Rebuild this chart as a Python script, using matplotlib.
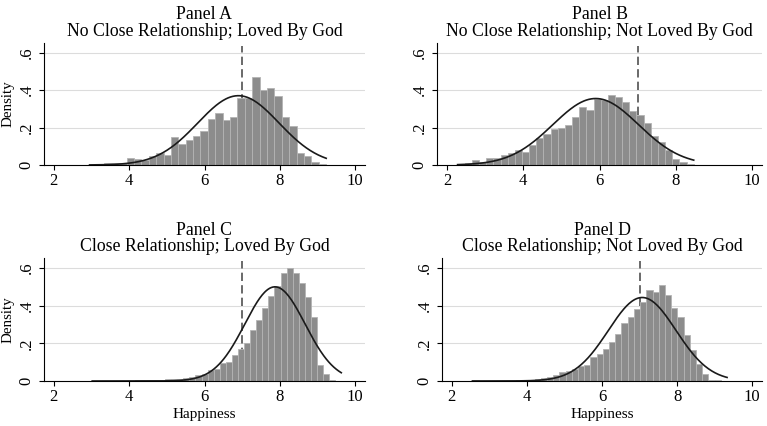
import numpy as np
import matplotlib
matplotlib.use("Agg")
import matplotlib.pyplot as plt

plt.rcParams['font.family'] = ['Liberation Serif', 'DejaVu Serif']

# panel titles
titles = ["Panel A\nNo Close Relationship; Loved By God",
          "Panel B\nNo Close Relationship; Not Loved By God",
          "Panel C\nClose Relationship; Loved By God",
          "Panel D\nClose Relationship; Not Loved By God"]

# histogram range (min, max of happiness) and bar densities per panel
a_range = (2.95, 9.23)
a_heights = [0.002, 0.003, 0.010, 0.012, 0.009, 0.036, 0.032, 0.027, 0.046, 0.062,
             0.052, 0.148, 0.114, 0.134, 0.155, 0.182, 0.248, 0.277, 0.240, 0.257,
             0.357, 0.356, 0.470, 0.398, 0.409, 0.370, 0.255, 0.209, 0.062, 0.048,
             0.018, 0.005]

b_range = (2.28, 8.47)
b_heights = [0.005, 0.012, 0.025, 0.014, 0.036, 0.040, 0.054, 0.062, 0.080, 0.068,
             0.107, 0.143, 0.164, 0.190, 0.200, 0.214, 0.255, 0.312, 0.295, 0.352,
             0.347, 0.374, 0.365, 0.338, 0.288, 0.267, 0.222, 0.155, 0.125, 0.078,
             0.034, 0.018, 0.005]

c_range = (3.02, 9.63)
c_heights = [0.002, 0.001, 0.001, 0.002, 0.001, 0.002, 0.002, 0.003, 0.003, 0.004,
             0.005, 0.006, 0.008, 0.010, 0.013, 0.016, 0.022, 0.030, 0.038, 0.060,
             0.066, 0.095, 0.100, 0.138, 0.170, 0.200, 0.270, 0.325, 0.385, 0.450,
             0.506, 0.575, 0.600, 0.572, 0.520, 0.445, 0.338, 0.085, 0.038, 0.005,
             0.002]

d_range = (2.55, 9.33)
d_heights = [0.004, 0.000, 0.000, 0.000, 0.001, 0.002, 0.002, 0.003, 0.004, 0.005,
             0.010, 0.014, 0.020, 0.030, 0.046, 0.053, 0.062, 0.081, 0.086, 0.130,
             0.142, 0.168, 0.205, 0.250, 0.306, 0.342, 0.380, 0.420, 0.485, 0.470,
             0.512, 0.455, 0.390, 0.340, 0.245, 0.165, 0.092, 0.038, 0.005, 0.003,
             0.002]

# normal overlay (mean, sd) per panel
a_norm = (6.90, 1.078)
b_norm = (5.90, 1.124)
c_norm = (7.87, 0.798)
d_norm = (7.07, 0.900)

cutoff = 7
xticks = [2, 4, 6, 8, 10]
yticks = [0, 0.2, 0.4, 0.6]
ytick_labels = ["0", ".2", ".4", ".6"]

W, H = 767, 426
fig = plt.figure(figsize=(W / 100, H / 100), dpi=100)

# axes boxes in pixels: left, right, top, bottom
boxes = [(44, 365, 42.7, 165), (437, 762, 42.7, 165),
         (44, 365, 258, 381), (442, 762, 258, 381)]
ranges = [a_range, b_range, c_range, d_range]
heights = [a_heights, b_heights, c_heights, d_heights]
norms = [a_norm, b_norm, c_norm, d_norm]

for i in range(4):
    l, r, t, b = boxes[i]
    ax = fig.add_axes([l / W, (H - b) / H, (r - l) / W, (b - t) / H])
    lo, hi = ranges[i]
    h = np.array(heights[i])
    edges = np.linspace(lo, hi, len(h) + 1)
    ax.bar(edges[:-1], h, width=np.diff(edges), align='edge',
           color='#8c8c8c', edgecolor='#b4b4b4', linewidth=0.6, zorder=2)
    m, s = norms[i]
    xs = np.linspace(lo, hi, 300)
    ax.plot(xs, np.exp(-0.5 * ((xs - m) / s) ** 2) / (s * np.sqrt(2 * np.pi)),
            color='#1a1a1a', lw=1.2, zorder=3)
    ax.vlines(cutoff, 0, 0.635, colors='#505050', linestyles=(0, (5, 2.5)),
              lw=1.2, zorder=1)

    ax.set_xlim(1.74, 10.26)
    ax.set_ylim(0, 0.653)
    ax.set_xticks(xticks)
    ax.set_xticklabels([str(v) for v in xticks])
    ax.set_yticks(yticks)
    ax.set_yticklabels(ytick_labels, rotation=90, va='center')
    for y in yticks[1:]:
        ax.axhline(y, color='#dcdcdc', lw=0.8, zorder=0)
    ax.spines['top'].set_visible(False)
    ax.spines['right'].set_visible(False)
    ax.spines['left'].set_linewidth(0.8)
    ax.spines['bottom'].set_linewidth(0.8)
    ax.tick_params(direction='out', length=3.6, width=0.8, labelsize=12)
    ax.tick_params(axis='y', pad=3)
    ax.tick_params(axis='x', pad=2.5)
    ax.set_title(titles[i], fontsize=12.8, linespacing=0.95, pad=5)
    if i % 2 == 0:
        ax.set_ylabel("Density", fontsize=10.8, labelpad=3)
    if i >= 2:
        ax.set_xlabel("Happiness", fontsize=11, labelpad=2)

fig.savefig("out.png", dpi=100)
